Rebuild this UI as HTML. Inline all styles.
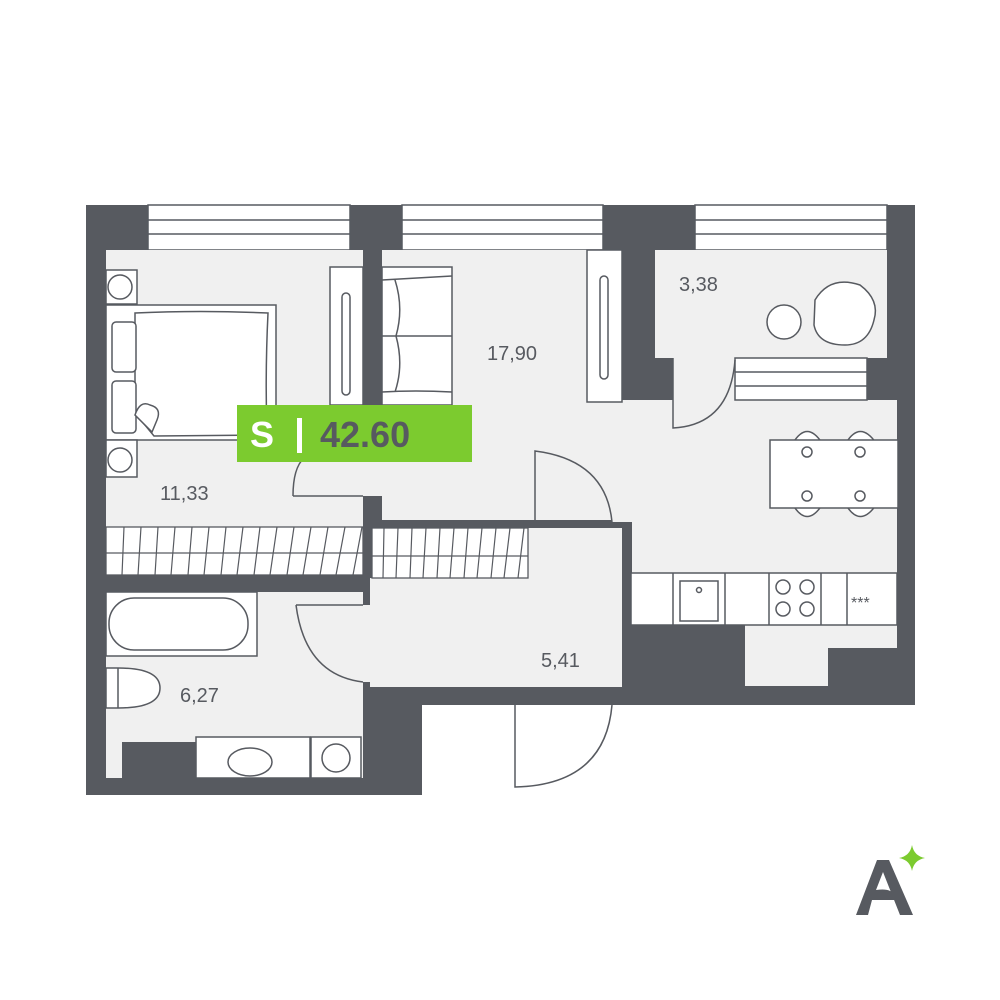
<!DOCTYPE html>
<html><head><meta charset="utf-8"><style>
html,body{margin:0;padding:0;background:#fff;}
svg{display:block;}
text{font-family:"Liberation Sans",sans-serif;}
</style></head><body>
<svg width="1000" height="1000" viewBox="0 0 1000 1000" xmlns="http://www.w3.org/2000/svg">
<rect width="1000" height="1000" fill="#fff"/>
<polygon points="86,205 915,205 915,705 422,705 422,795 86,795" fill="#575a60"/>
<g fill="#fff" stroke="#575a60" stroke-width="1.5">
<rect x="148" y="205" width="202" height="45"/>
<rect x="402" y="205" width="201" height="45"/>
<rect x="695" y="205" width="192" height="45"/>
</g>
<g stroke="#575a60" stroke-width="1.5">
<line x1="148" y1="220" x2="350" y2="220"/><line x1="148" y1="234" x2="350" y2="234"/>
<line x1="402" y1="220" x2="603" y2="220"/><line x1="402" y1="234" x2="603" y2="234"/>
<line x1="695" y1="220" x2="887" y2="220"/><line x1="695" y1="234" x2="887" y2="234"/>
</g>
<g fill="#f0f0f0">
<rect x="106" y="250" width="257" height="277"/>
<polygon points="363,460 382,460 382,250 622,250 622,400 897,400 897,573 630,573 630,522 612,522 612,520 382,520 382,496 363,496"/>
<rect x="655" y="250" width="232" height="108"/>
<rect x="673" y="358" width="62" height="42"/>
<rect x="528" y="528" width="94" height="60"/>
<rect x="370" y="578" width="252" height="109"/>
<rect x="106" y="592" width="257" height="186"/>
<rect x="363" y="605" width="10" height="77"/>
<polygon points="745,625 897,625 897,648 828,648 828,686 745,686"/>
</g>
<rect x="363" y="496" width="19" height="24" fill="#575a60"/>
<rect x="382" y="520" width="158" height="8" fill="#575a60"/>
<rect x="612" y="522" width="18" height="6" fill="#575a60"/>
<rect x="622" y="522" width="10" height="166" fill="#575a60"/>
<g fill="#fff" stroke="#575a60" stroke-width="1.3">
<rect x="106" y="527" width="257" height="48"/>
<rect x="372" y="528" width="156" height="50"/>
<line x1="106" y1="553" x2="363" y2="553"/>
<line x1="372" y1="556" x2="528" y2="556"/>
</g>
<g stroke="#575a60" stroke-width="1.2">
<path d="M124,527 L122,575 M141,527 L138,575 M158,527 L155,575 M175,527 L171,575 M192,527 L188,575 M209,527 L204,575 M226,527 L221,575 M243,527 L237,575 M260,527 L254,575 M277,527 L270,575 M294,527 L287,575 M311,527 L303,575 M328,527 L320,575 M345,527 L336,575 M362,527 L353,575"/>
<path d="M384,528 L383,578 M398,528 L396,578 M412,528 L410,578 M426,528 L423,578 M440,528 L437,578 M454,528 L450,578 M468,528 L464,578 M482,528 L477,578 M496,528 L491,578 M510,528 L504,578 M524,528 L518,578"/>
</g>
<g fill="#fff" stroke="#575a60" stroke-width="1.5">
<rect x="106" y="270" width="31" height="34"/>
<circle cx="120" cy="287" r="12"/>
<rect x="106" y="305" width="170" height="135"/>
<path d="M135,313 Q200,310 268,313 Q265,375 267,435 L154,436 L135,413 Z"/>
<rect x="112" y="322" width="24" height="50" rx="4"/>
<rect x="112" y="381" width="24" height="52" rx="4"/>
<path d="M135,415 Q140,400 150,405 Q162,408 157,420 L152,432 Z"/>
<rect x="106" y="440" width="31" height="37"/>
<circle cx="120" cy="460" r="12"/>
<rect x="330" y="267" width="33" height="138"/>
<rect x="342" y="293" width="8" height="102" rx="4"/>
<rect x="382" y="267" width="70" height="138"/>
<path d="M382,280 Q415,278 452,276 M382,392 Q415,390 452,392 M382,336 L452,336 M395,280 Q404,308 396,336 M396,336 Q404,365 395,392"/>
<rect x="587" y="250" width="35" height="152"/>
<rect x="600" y="276" width="8" height="103" rx="4"/>
<rect x="735" y="358" width="132" height="42"/>
<line x1="735" y1="372" x2="867" y2="372"/><line x1="735" y1="386" x2="867" y2="386"/>
<circle cx="784" cy="322" r="17"/>
<path d="M815,300 Q830,275 860,285 Q880,300 874,320 Q868,345 845,345 Q818,345 814,325 Z"/>
<path d="M793,443 Q807,420 822,443 M846,443 Q860,420 876,443 M793,505 Q807,528 822,505 M846,505 Q860,528 876,505"/>
<rect x="770" y="440" width="128" height="68"/>
<circle cx="807" cy="452" r="5"/><circle cx="860" cy="452" r="5"/>
<circle cx="807" cy="496" r="5"/><circle cx="860" cy="496" r="5"/>
<rect x="631" y="573" width="266" height="52"/>
<line x1="673" y1="573" x2="673" y2="625"/><line x1="725" y1="573" x2="725" y2="625"/>
<line x1="769" y1="573" x2="769" y2="625"/><line x1="821" y1="573" x2="821" y2="625"/>
<line x1="847" y1="573" x2="847" y2="625"/>
<rect x="680" y="581" width="38" height="40"/>
<circle cx="699" cy="590" r="2.5"/>
<circle cx="783" cy="587" r="7"/><circle cx="807" cy="587" r="7"/>
<circle cx="783" cy="609" r="7"/><circle cx="807" cy="609" r="7"/>
<rect x="106" y="592" width="151" height="64"/>
<rect x="109" y="598" width="139" height="52" rx="25"/>
<path d="M106,668 L118,668 Q160,668 160,688 Q160,708 118,708 L106,708 Z"/>
<line x1="118" y1="668" x2="118" y2="708"/>
<rect x="196" y="737" width="114" height="41"/>
<ellipse cx="250" cy="762" rx="22" ry="14"/>
<rect x="311" y="737" width="50" height="41"/>
<circle cx="336" cy="758" r="14"/>
</g>
<rect x="122" y="742" width="74" height="36" fill="#575a60"/>
<g fill="none" stroke="#575a60" stroke-width="1.5">
<path d="M293,496 L363,496 M293,496 Q293,468 304,458"/>
<path d="M535,520 L535,451 Q606,460 612,522"/>
<path d="M673,358 L673,428 Q730,425 735,360"/>
<path d="M296,605 L363,605 M296,605 Q305,675 363,682"/>
<path d="M515,705 L515,787 Q605,785 612,705"/>
</g>
<rect x="612" y="687" width="10" height="18" fill="#575a60"/>
<g fill="#575a60" font-size="20">
<text x="160" y="500">11,33</text>
<text x="487" y="360">17,90</text>
<text x="679" y="291">3,38</text>
<text x="541" y="667">5,41</text>
<text x="180" y="702">6,27</text>
<text x="851" y="608" font-size="16">***</text>
</g>
<rect x="237" y="405" width="235" height="57" fill="#7ccb2f"/>
<text x="250" y="447" font-size="36" font-weight="bold" fill="#fff">S</text>
<rect x="297" y="418" width="5" height="35" fill="#fff"/>
<text x="320" y="447" font-size="36" font-weight="bold" fill="#575a60">42.60</text>
<path d="M856,915 L877,860 L889,860 L913,915 L900,915 L883,872 L876,890 Q895,887 895,900 L872,900 L868,915 Z" fill="#575a60"/>
<path d="M912,845 Q914,856 925,858 Q914,860 912,871 Q910,860 899,858 Q910,856 912,845 Z" fill="#7ccb2f"/>
</svg>
</body></html>
